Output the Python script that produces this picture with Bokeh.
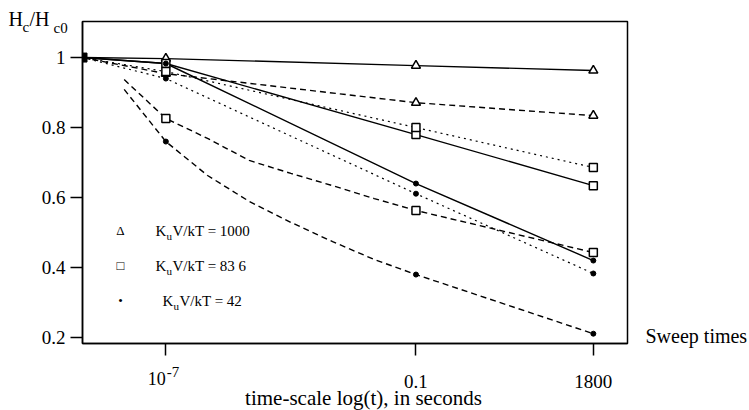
from bokeh.plotting import figure
from bokeh.models import Label, FixedTicker, Range1d
from bokeh.core.properties import value
from bokeh.embed import file_html
from bokeh.resources import INLINE

# ---------------- data ----------------
sweep_times = [1e-9, 1e-7, 0.1, 1800]
x_tick_values = [1e-7, 0.1, 1800]
x_tick_labels = ["10", "0.1", "1800"]
y_tick_values = [0.2, 0.4, 0.6, 0.8, 1.0]
y_tick_labels = ["0.2", "0.4", "0.6", "0.8", "1"]

# K_uV/kT = 1000 (triangles)
k1000_solid = [1.0, 0.997, 0.977, 0.963]
k1000_dashed = [1.0, 0.954, 0.871, 0.834]
# K_uV/kT = 83.6 (squares)
k836_solid = [1.0, 0.983, 0.78, 0.634]
k836_dotted = [1.0, 0.96, 0.80, 0.686]
# K_uV/kT = 42 (dots)
k42_solid = [1.0, 0.983, 0.64, 0.42]
k42_dotted = [1.0, 0.94, 0.611, 0.383]

# dashed model curves
curve_times = [1e-8, 1e-7, 1e-6, 1e-5, 1e-4, 1e-3, 1e-2, 0.1, 1800]
k836_dashed = [0.937, 0.826, 0.769, 0.706, 0.669, 0.634, 0.597, 0.563, 0.443]
k42_dashed = [0.909, 0.76, 0.663, 0.589, 0.529, 0.474, 0.423, 0.38, 0.211]

legend_labels = ["1000", "83 6", "42"]

FONT = "Liberation Serif"
X0, X1 = 1e-9, 10 ** 4.075
Y0, Y1 = 0.183, 1.103

p = figure(width=749, height=410, x_axis_type="log",
           x_range=Range1d(X0, X1), y_range=Range1d(Y0, Y1),
           output_backend="svg", toolbar_location=None,
           min_border_left=82, min_border_right=122, min_border_top=21, min_border_bottom=67)
p.xgrid.visible = False
p.ygrid.visible = False
p.outline_line_color = "black"
p.outline_line_width = 1.5
p.background_fill_color = "white"
p.border_fill_color = "white"

# axes
xa = p.xaxis[0]
xa.ticker = FixedTicker(ticks=x_tick_values)
xa.major_label_overrides = {v: "" for v in x_tick_values}
xa.major_tick_out = 12
xa.major_tick_in = 0
xa.minor_tick_out = 0
xa.minor_tick_in = 0
xa.axis_line_width = 1.5
xa.major_tick_line_width = 1.5
xa.axis_line_color = "black"
xa.major_tick_line_color = "black"

ya = p.yaxis[0]
ya.ticker = FixedTicker(ticks=y_tick_values)
ya.major_label_overrides = dict(zip(y_tick_values, y_tick_labels))
ya.major_label_text_font = FONT
ya.major_label_text_font_size = "19px"
ya.major_label_text_color = "black"
ya.major_tick_out = 12
ya.major_tick_in = 0
ya.minor_tick_out = 0
ya.minor_tick_in = 0
ya.axis_line_width = 1.5
ya.major_tick_line_width = 1.5
ya.major_label_standoff = 5

LW = 1.4
DASH = "6 4"
DOT = "2 4"

# lines
p.line(sweep_times, k1000_solid, line_color="black", line_width=LW)
p.line(sweep_times, k1000_dashed, line_color="black", line_width=LW, line_dash=DASH)
p.line(sweep_times, k836_solid, line_color="black", line_width=LW)
p.line(sweep_times, k836_dotted, line_color="black", line_width=1.2, line_dash=DOT)
p.line(sweep_times, k42_solid, line_color="black", line_width=LW)
p.line(sweep_times, k42_dotted, line_color="black", line_width=1.2, line_dash=DOT)
p.line(curve_times, k836_dashed, line_color="black", line_width=LW, line_dash=DASH)
p.line(curve_times, k42_dashed, line_color="black", line_width=LW, line_dash=DASH)

# markers (at the sweep times after the start point)
mt = sweep_times[1:]
for ys in (k1000_solid, k1000_dashed):
    p.scatter(mt, ys[1:], marker="triangle", size=9, fill_color="white", line_color="black", line_width=1.5)
for ys in (k836_solid, k836_dotted):
    p.scatter(mt, ys[1:], marker="square", size=8, fill_color="white", line_color="black", line_width=1.5)
for ys in (k42_solid, k42_dotted):
    p.scatter(mt, ys[1:], marker="circle", size=5, fill_color="black", line_color="black")

sel = [i for i, t in enumerate(curve_times) if t in sweep_times]
p.scatter([curve_times[i] for i in sel], [k836_dashed[i] for i in sel], marker="square", size=8,
          fill_color="white", line_color="black", line_width=1.5)
p.scatter([curve_times[i] for i in sel], [k42_dashed[i] for i in sel], marker="circle", size=5,
          fill_color="black", line_color="black")

# common start point
p.scatter([sweep_times[0]], [k1000_solid[0]], marker="square", size=9, fill_color="black", line_color="black")


def txt(x, y, s, size, align="left", dx=0, dy=0):
    # text anchored at data point (x, y), shifted dx/dy pixels (dy > 0 = down)
    p.text(x=[x], y=[y], text=[s], x_offset=dx, y_offset=dy,
           text_font=value(FONT), text_font_size=value(f"{size}px"), text_color="black",
           text_align=align, text_baseline="middle", level="overlay")

# x tick labels
txt(x_tick_values[0], Y0, x_tick_labels[0], 18, align="right", dy=35)
txt(x_tick_values[0], Y0, "-7", 15, align="left", dx=1, dy=28)
txt(x_tick_values[1], Y0, x_tick_labels[1], 19, align="center", dy=38)
txt(x_tick_values[2], Y0, x_tick_labels[2], 19, align="center", dy=38)

# x axis title and the sweep label
txt(X0, Y0, "time-scale log(t), in seconds", 21, align="center", dx=281, dy=54)
txt(X1, Y0, "Sweep times", 20, align="left", dx=18, dy=-8)

# y axis title H_c / H_c0 (top-left)
txt(X0, Y1, "H", 20, dx=-74, dy=-3)
txt(X0, Y1, "c", 15, dx=-60, dy=5)
txt(X0, Y1, "/H", 20, dx=-53, dy=-3)
txt(X0, Y1, "c0", 15, dx=-29, dy=6)


def lab(x, y, text, size, align="left"):
    p.add_layout(Label(x=x, y=y, x_units="screen", y_units="screen", text=text,
                       text_font=FONT, text_font_size=f"{size}px", text_color="black",
                       text_align=align, text_baseline="middle"))

# legend
sym = ["\u0394", "\u25a1", "\u2022"]
ys_leg = [343 - 230, 343 - 265, 343 - 300]
xs_txt = [155 - 82, 155 - 82, 162 - 82]
for s, yy, xx, val in zip(sym, ys_leg, xs_txt, legend_labels):
    lab(120 - 82, yy, s, 13, align="center")
    lab(xx, yy, "K", 15)
    lab(xx + 11, yy - 5, "u", 11)
    lab(xx + 17, yy, "V/kT = " + val, 15)

open("out.html", "w").write(file_html(p, INLINE))
